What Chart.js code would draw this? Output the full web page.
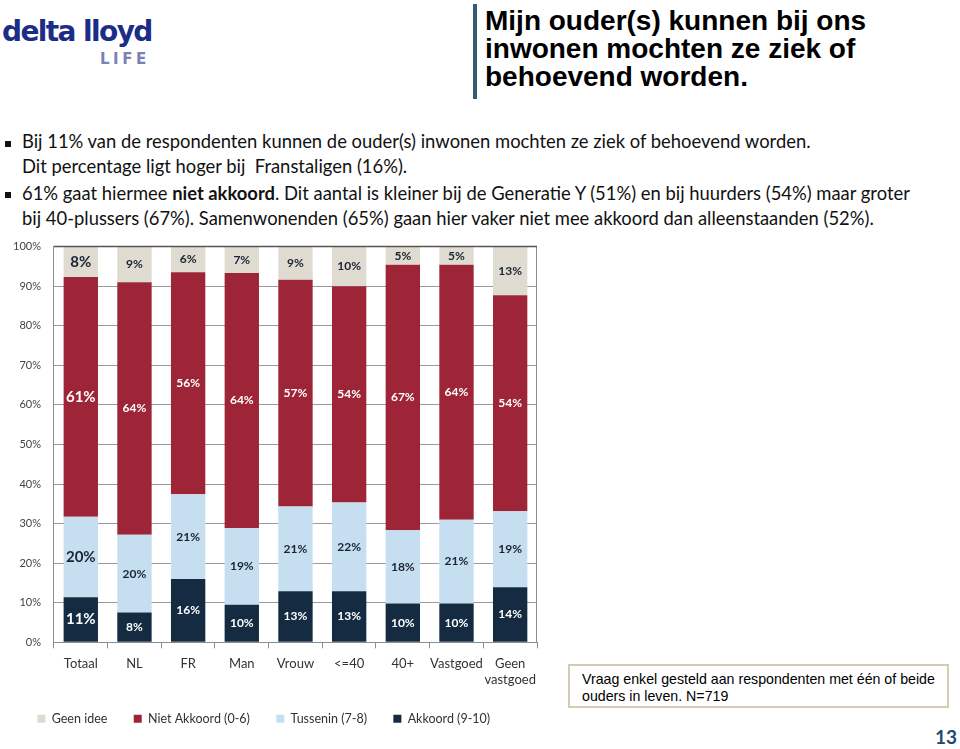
<!DOCTYPE html>
<html>
<head>
<meta charset="utf-8">
<script src="https://cdn.jsdelivr.net/npm/chart.js@4.4.1/dist/chart.umd.min.js"></script>
<style>
  body { margin: 0; width: 960px; height: 749px; background: #fff; position: relative; overflow: hidden; font-family: "Liberation Sans", Arial, sans-serif; }
  .abs { position: absolute; }
  #logo { left: 2px; top: 15px; font-family: "DejaVu Sans", sans-serif; font-weight: 900; font-size: 28px; color: #1b2d87; letter-spacing: -1.6px; }
  #life { left: 100px; top: 50px; font-family: "DejaVu Sans", sans-serif; font-weight: bold; font-size: 15px; color: #7a80b8; letter-spacing: 3.5px; }
  #vbar { left: 473px; top: 4px; width: 4px; height: 95px; background: #2e5d78; }
  #title { left: 485px; top: 7px; font-weight: bold; font-size: 28px; line-height: 28px; color: #000; }
  .bul { left: 22px; font-family: Lato, sans-serif; font-size: 18.4px; color: #111; line-height: 25px; white-space: nowrap; }
  .sq { position: absolute; width: 6px; height: 6px; background: #111; left: 5px; }
  #wrap { left: 0; top: 227px; width: 546px; height: 508px; }
  #note { left: 568px; top: 664px; width: 381px; height: 44px; border: 2px solid #d4ccb0; font-size: 14.2px; line-height: 17px; padding: 5px 0 0 12px; box-sizing: border-box; color: #000; }
  #page { left: 935px; top: 725px; font-family: Lato, sans-serif; font-weight: bold; font-size: 19px; color: #1f4a6e; }
</style>
</head>
<body>
<div class="abs" id="logo">delta lloyd</div>
<div class="abs" id="life">LIFE</div>
<div class="abs" id="vbar"></div>
<div class="abs" id="title">Mijn ouder(s) kunnen bij ons<br>inwonen mochten ze ziek of<br>behoevend worden.</div>

<div class="sq" style="top:141px"></div>
<div class="abs bul" style="top:129px">Bij 11% van de respondenten kunnen de ouder(s) inwonen mochten ze ziek of behoevend worden.<br>Dit percentage ligt hoger bij&nbsp; Franstaligen (16%).</div>
<div class="sq" style="top:192px"></div>
<div class="abs bul" style="top:181px">61% gaat hiermee <b>niet akkoord</b>. Dit aantal is kleiner bij de Generatie Y (51%) en bij huurders (54%) maar groter<br>bij 40-plussers (67%). Samenwonenden (65%) gaan hier vaker niet mee akkoord dan alleenstaanden (52%).</div>

<div class="abs" id="wrap"><canvas id="chart"></canvas></div>
<div class="abs" id="note">Vraag enkel gesteld aan respondenten met één of beide ouders in leven. N=719</div>
<div class="abs" id="page">13</div>

<script>
const categories = ["Totaal", "NL", "FR", "Man", "Vrouw", "<=40", "40+", "Vastgoed", ["Geen", "vastgoed"]];
const seriesNames = ["Akkoord (9-10)", "Tussenin (7-8)", "Niet Akkoord (0-6)", "Geen idee"];
const seriesColors = ["#142b42", "#c5def0", "#9e2537", "#dfdbd0"];
const labelColors = ["#ffffff", "#1a2433", "#ffffff", "#1a2433"];

// segment sizes as measured on the bars
const akkoord     = [11.4, 7.5, 16.0, 9.5, 12.9, 12.9, 9.8, 9.8, 13.9];
const tussenin    = [20.3, 19.7, 21.4, 19.4, 21.4, 22.4, 18.5, 21.2, 19.2];
const nietAkkoord = [60.6, 63.8, 56.1, 64.4, 57.3, 54.7, 67.1, 64.4, 54.6];
const geenIdee    = [7.7, 9.0, 6.5, 6.7, 8.4, 10.0, 4.6, 4.6, 12.3];

// printed labels on the bars
const akkoordLbl     = [11, 8, 16, 10, 13, 13, 10, 10, 14];
const tussenLbl      = [20, 20, 21, 19, 21, 22, 18, 21, 19];
const nietAkkoordLbl = [61, 64, 56, 64, 57, 54, 67, 64, 54];
const geenIdeeLbl    = [8, 9, 6, 7, 9, 10, 5, 5, 13];

const yTicks = [0, 10, 20, 30, 40, 50, 60, 70, 80, 90, 100];

const values = [akkoord, tussenin, nietAkkoord, geenIdee];
const printed = [akkoordLbl, tussenLbl, nietAkkoordLbl, geenIdeeLbl];

// labels in het midden van elk segment
const barLabels = {
  id: "barLabels",
  afterDatasetsDraw(chart) {
    const ctx = chart.ctx;
    ctx.save();
    ctx.textAlign = "center";
    ctx.textBaseline = "middle";
    chart.data.datasets.forEach((ds, i) => {
      chart.getDatasetMeta(i).data.forEach((bar, j) => {
        const p = bar.getProps(["x", "y", "base"], true);
        const size = j === 0 ? 15 : 12;
        ctx.font = "bold " + size + "px Lato, sans-serif";
        ctx.fillStyle = labelColors[i];
        ctx.fillText(printed[i][j] + "%", p.x, (p.y + p.base) / 2);
      });
    });
    ctx.restore();
  }
};

// kader rond de grafiek
const frame = {
  id: "frame",
  afterDraw(chart) {
    const a = chart.chartArea;
    const ctx = chart.ctx;
    ctx.save();
    ctx.strokeStyle = "#8c8c8c";
    ctx.lineWidth = 1;
    ctx.beginPath();
    ctx.moveTo(a.right - 0.5, a.bottom);
    ctx.lineTo(a.right - 0.5, a.top);
    ctx.stroke();
    ctx.strokeStyle = "#555";
    ctx.lineWidth = 1.5;
    ctx.beginPath();
    ctx.moveTo(a.left, a.top);
    ctx.lineTo(a.right, a.top);
    ctx.stroke();
    ctx.restore();
  }
};

new Chart(document.getElementById("chart"), {
  type: "bar",
  data: {
    labels: categories,
    datasets: values.map((v, i) => ({
      label: seriesNames[i],
      data: v,
      backgroundColor: seriesColors[i],
      borderWidth: 0,
      barPercentage: 0.64,
      categoryPercentage: 1
    }))
  },
  options: {
    responsive: true,
    maintainAspectRatio: false,
    animation: false,
    layout: { padding: { top: 4, right: 9, left: 0, bottom: 0 } },
    scales: {
      x: {
        stacked: true,
        grid: { display: true, drawOnChartArea: false, tickLength: 6, color: "#8c8c8c", offset: true },
        border: { color: "#8c8c8c" },
        ticks: { color: "#333", font: { family: "Lato", size: 13 }, padding: 8, maxRotation: 0, autoSkip: false }
      },
      y: {
        stacked: true,
        min: 0,
        max: 100,
        afterBuildTicks: s => { s.ticks = yTicks.map(v => ({ value: v })); },
        grid: { color: "#9a9a9a", tickLength: 0, drawTicks: false },
        border: { color: "#8c8c8c" },
        ticks: { color: "#444", font: { family: "Lato", size: 11 }, padding: 13, callback: v => v + "%" }
      }
    },
    plugins: {
      legend: {
        position: "bottom",
        reverse: true,
        labels: {
          boxWidth: 8, boxHeight: 8, padding: 17, color: "#333",
          font: { family: "Lato", size: 12.5 },
          // extra ruimte tussen de items
          generateLabels: chart => Chart.defaults.plugins.legend.labels.generateLabels(chart)
            .map(l => ({ ...l, text: l.text + "\u2003" }))
        }
      },
      tooltip: { enabled: false }
    }
  },
  plugins: [barLabels, frame]
});
</script>
</body>
</html>
